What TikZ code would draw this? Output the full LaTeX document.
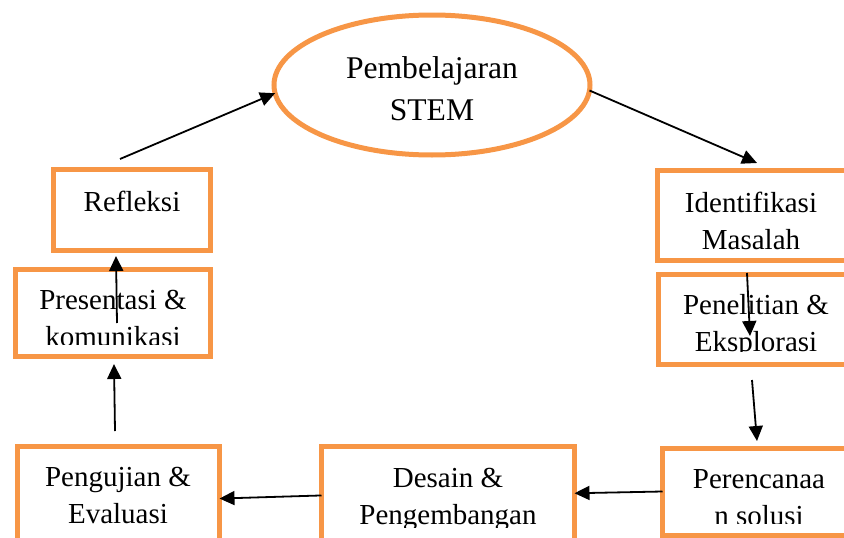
\documentclass[tikz,border=0pt]{standalone}
\usepackage{fontspec}
\setmainfont{Liberation Serif}
\usetikzlibrary{shapes.geometric,arrows.meta}
\definecolor{oranye}{HTML}{F79646}

\begin{document}
\begin{tikzpicture}[x=1pt,y=-1pt,
    kotak/.style={draw=oranye,line width=5pt,rectangle,inner sep=0pt,outer sep=0pt},
    teks/.style={align=center,anchor=base,inner sep=0pt,font=\fontsize{29}{37}\selectfont},
    panah/.style={-{Triangle[length=15pt,width=14pt]},line width=1.8pt}]
    \clip (0,0) rectangle (844,538);

    % Pusat siklus
    \node[draw=oranye,line width=5pt,ellipse,minimum width=316,minimum height=140,inner sep=0pt,outer sep=0pt] (stem) at (432,85) {};
    \node[teks,font=\fontsize{31.6}{42}\selectfont] (stemT) at (432,120) {Pembelajaran\\STEM};

    % Kotak-kotak tahapan
    \node[kotak,minimum width=157,minimum height=80.5] (refl) at (132,209.75) {};
    \node[kotak,minimum width=195,minimum height=87] (pres) at (113,313) {};
    \node[kotak,minimum width=188.5,minimum height=90] (ident) at (751.75,215) {};
    \node[kotak,minimum width=195.5,minimum height=90] (penel) at (756.25,319) {};
    \node[kotak,minimum width=193.5,minimum height=87] (peren) at (759.25,491.5) {};
    \node[kotak,minimum width=253,minimum height=93.5] (desain) at (448,493.25) {};
    \node[kotak,minimum width=202,minimum height=93.5] (pengu) at (118.5,493.25) {};

    % Teks (baris bawah terpotong oleh kotak)
    \node[teks] (reflT) at (132,211) {Refleksi};
    \node[teks] (identT) at (751,249) {Identifikasi\\Masalah};
    \node[teks] (penguT) at (118,523) {Pengujian \&\\Evaluasi};
    \begin{scope}
        \clip (18,272) rectangle (208,344);
        \node[teks] (presT) at (113,346) {Presentasi \&\\komunikasi};
    \end{scope}
    \begin{scope}
        \clip (661,276.5) rectangle (844,351);
        \node[teks] (penelT) at (756,351) {Penelitian \&\\Eksplorasi};
    \end{scope}
    \begin{scope}
        \clip (665,450.5) rectangle (844,523);
        \node[teks] (perenT) at (759,525) {Perencanaa\\n solusi};
    \end{scope}
    \begin{scope}
        \clip (324,449) rectangle (572,527.5);
        \node[teks] (desainT) at (448,524) {Desain \&\\Pengembangan};
    \end{scope}

    % Ujung panah yang bebas
    \coordinate (a1) at (120,159);
    \coordinate (a2) at (757,163);
    \coordinate (a3s) at (747,273);
    \coordinate (a3e) at (750,336);
    \coordinate (a4s) at (752,380);
    \coordinate (a4e) at (757,441);
    \coordinate (a7s) at (115,431);
    \coordinate (a7e) at (114,364);
    \coordinate (a8s) at (117,323);
    \coordinate (a8e) at (116,256);

    % Panah
    \draw[panah] (a1) -- (stem.183);
    \draw[panah] (stem.-2) -- (a2);
    \draw[panah] (a3s) -- (a3e);
    \draw[panah] (a4s) -- (a4e);
    \draw[panah] (peren.west) -- (desain.east);
    \draw[panah] (desain.181) -- (pengu.-3);
    \draw[panah] (a7s) -- (a7e);
    \draw[panah] (a8s) -- (a8e);
\end{tikzpicture}
\end{document}
